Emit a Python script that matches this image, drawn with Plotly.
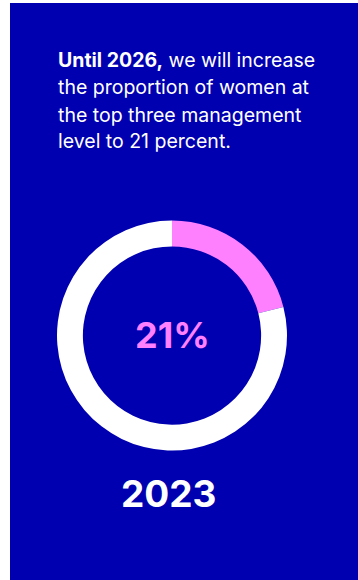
import plotly.graph_objects as go

W, H = 358, 580
BLUE = "#0000B0"
PINK = "#FF80FF"

labels = ["Women", "Others"]
values = [21, 79]
colors = [PINK, "#FFFFFF"]
center_label = "21%"
year_label = "2023"
text_lines = [
    "<b>Until 2026,</b> we will increase",
    "the proportion of women at",
    "the top three management",
    "level to 21 percent.",
]

def px_x(x):
    return x / W

def px_y(y):
    return 1 - y / H

cx, cy, r = 172, 335.5, 115

fig = go.Figure()
fig.add_trace(go.Pie(
    labels=labels, values=values, hole=0.775, sort=False,
    direction="clockwise", rotation=0,
    marker=dict(colors=colors, line=dict(width=0)),
    textinfo="none", hoverinfo="skip", showlegend=False,
    domain=dict(x=[px_x(cx - r), px_x(cx + r)], y=[px_y(cy + r), px_y(cy - r)]),
))

shapes = [dict(type="rect", xref="paper", yref="paper", x0=px_x(10), x1=1.0,
               y0=0.0, y1=px_y(3), fillcolor=BLUE, line=dict(width=0), layer="below")]

annotations = []
line_y = [60, 87, 114.5, 141.5]
for t, yy in zip(text_lines, line_y):
    annotations.append(dict(text=t, x=px_x(56), y=px_y(yy), xref="paper", yref="paper",
                            xanchor="left", yanchor="middle", showarrow=False,
                            font=dict(family="Inter", size=19.5, color="white")))
annotations.append(dict(text="<b>" + center_label + "</b>", x=px_x(cx), y=px_y(335),
                        xref="paper", yref="paper", xanchor="center", yanchor="middle",
                        showarrow=False, font=dict(family="Inter", size=36, color=PINK)))
annotations.append(dict(text="<b>" + year_label + "</b>", x=px_x(168.5), y=px_y(493),
                        xref="paper", yref="paper", xanchor="center", yanchor="middle",
                        showarrow=False, font=dict(family="Inter", size=37, color="white")))

fig.update_layout(
    width=W, height=H, margin=dict(l=0, r=0, t=0, b=0),
    paper_bgcolor="white", plot_bgcolor="white",
    shapes=shapes, annotations=annotations,
)
fig.write_html("out.html")
